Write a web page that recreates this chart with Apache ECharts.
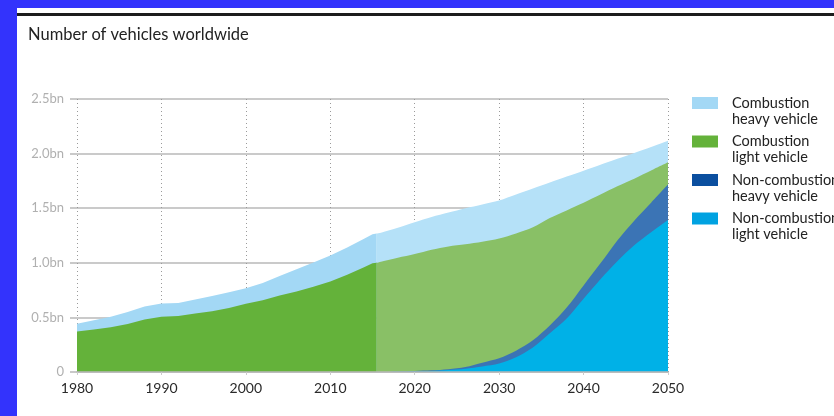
<!DOCTYPE html>
<html>
<head>
<meta charset="utf-8">
<script src="https://cdn.jsdelivr.net/npm/echarts@6/dist/echarts.min.js"></script>
<style>
html,body{margin:0;padding:0;background:#fff;}
#chart{width:834px;height:416px;}
</style>
</head>
<body>
<div id="chart"></div>
<script>
// Years (x values); 2015.5 marks the start of the projection
const years = [1980,1982,1984,1986,1988,1990,1992,1994,1996,1998,2000,2002,2004,2006,2008,2010,2012,2014,2015,2015.5,2016,2018,2020,2022,2024,2026,2028,2030,2032,2034,2036,2038,2040,2042,2044,2046,2048,2050];
// Values in billions of vehicles (per category; layers stacked bottom to top)
const nonCombustionLight = [0,0,0,0,0,0,0,0,0,0,0,0,0,0,0,0,0,0,0,0,0,0.002,0.005,0.01,0.018,0.03,0.05,0.077,0.135,0.225,0.355,0.49,0.671,0.85,1.015,1.16,1.28,1.393];
const nonCombustionHeavy = [0,0,0,0,0,0,0,0,0,0,0,0,0,0,0,0,0,0,0,0,0,0.001,0.005,0.005,0.007,0.015,0.035,0.048,0.06,0.065,0.07,0.10,0.122,0.145,0.19,0.226,0.27,0.323];
const combustionLight = [0.372,0.39,0.41,0.44,0.48,0.505,0.513,0.535,0.556,0.585,0.625,0.657,0.70,0.737,0.78,0.829,0.89,0.96,0.995,1.0,1.01,1.043,1.07,1.105,1.125,1.125,1.108,1.097,1.073,1.035,0.985,0.89,0.757,0.63,0.495,0.384,0.295,0.204];
const combustionHeavy = [0.070,0.085,0.095,0.11,0.12,0.122,0.12,0.13,0.139,0.145,0.143,0.158,0.18,0.203,0.223,0.238,0.25,0.26,0.267,0.268,0.265,0.274,0.291,0.30,0.31,0.33,0.342,0.348,0.357,0.355,0.325,0.31,0.294,0.272,0.252,0.235,0.215,0.198];
const projectionStart = 2015.5;
const seriesNames = ['Non-combustion light vehicle','Non-combustion heavy vehicle','Combustion light vehicle','Combustion heavy vehicle'];
const legendLabels = {
  'Combustion heavy vehicle': 'Combustion\nheavy vehicle',
  'Combustion light vehicle': 'Combustion\nlight vehicle',
  'Non-combustion heavy vehicle': 'Non-combustion\nheavy vehicle',
  'Non-combustion light vehicle': 'Non-combustion\nlight vehicle'
};
const yTickLabels = {0:'0',0.5:'0.5bn',1:'1.0bn',1.5:'1.5bn',2:'2.0bn',2.5:'2.5bn'};

// cumulative layer tops (stacking)
const top1 = nonCombustionLight.map(v => v);
const top2 = top1.map((v,i) => v + nonCombustionHeavy[i]);
const top3 = top2.map((v,i) => v + combustionLight[i]);
const top4 = top3.map((v,i) => v + combustionHeavy[i]);

const pairs = (arr, filt) => arr.map((v,i)=>[years[i], v]).filter(p => !filt || filt(p[0]));
const hist = x => x <= projectionStart;
const proj = x => x >= projectionStart;
const FONT = 'Lato, "Open Sans", sans-serif';

const colors = {
  ncl: '#00b1e7', ncl_leg: '#00a2e1',
  nch: '#3b74b5', nch_leg: '#0b4f9f',
  cl_hist: '#64b23a', cl_proj: '#89c066',
  ch_hist: '#a3d8f5', ch_proj: '#b5e1f8'
};

function areaSeries(name, data, color, smooth){
  return {
    name: name, type: 'line', data: data,
    symbol: 'none', smooth: smooth ? 0.3 : false,
    lineStyle: {width: 0},
    itemStyle: {color: color},
    areaStyle: {color: color, opacity: 1},
    emphasis: {disabled: true}
  };
}

const chart = echarts.init(document.getElementById('chart'));
chart.setOption({
  animation: false,
  backgroundColor: '#fff',
  title: {
    text: 'Number of vehicles worldwide', left: 23, top: 21,
    textStyle: {fontFamily: FONT, fontSize: 16.5, fontWeight: 'normal', color: '#222'}
  },
  graphic: [
    {type:'rect', shape:{x:0,y:0,width:17,height:416}, style:{fill:'#3333fc'}, z:100},
    {type:'rect', shape:{x:0,y:0,width:834,height:8}, style:{fill:'#3333fc'}, z:100},
    {type:'rect', shape:{x:17,y:13,width:817,height:3}, style:{fill:'#1c1c1c'}, z:100}
  ],
  legend: {
    orient: 'vertical', left: 687, top: 72,
    itemWidth: 26, itemHeight: 12, itemGap: -13.5,
    selectedMode: false,
    icon: 'rect',
    textStyle: {fontFamily: FONT, fontSize: 14.5, color: '#222', lineHeight: 16, padding: [4,0,0,9]},
    formatter: function(n){ return '\n' + legendLabels[n]; },
    data: [
      {name: seriesNames[3], itemStyle: {color: colors.ch_hist}},
      {name: seriesNames[2], itemStyle: {color: colors.cl_hist}},
      {name: seriesNames[1], itemStyle: {color: colors.nch_leg}},
      {name: seriesNames[0], itemStyle: {color: colors.ncl_leg}}
    ]
  },
  grid: {left: 77, right: 166, top: 99, bottom: 44, containLabel: false},
  xAxis: {
    type: 'value', min: 1980, max: 2050, interval: 10, z: 3,
    axisLine: {show: true, lineStyle: {color: '#b8b8b8', width: 1.5}},
    axisTick: {show: true, length: 3, lineStyle: {color: '#cccccc'}},
    axisLabel: {fontFamily: FONT, fontSize: 14, color: '#2a2a2a', margin: 9, formatter: v => String(v)},
    splitLine: {show: true, lineStyle: {color: '#9a9a9a', type: [1,3], width: 1}}
  },
  yAxis: {
    type: 'value', min: 0, max: 2.5, interval: 0.5, z: 3,
    axisLine: {show: false},
    axisTick: {show: true, length: 7, lineStyle: {color: '#b8b8b8', width: 1.5}},
    axisLabel: {fontFamily: FONT, fontSize: 13, color: '#b0b0b0', margin: 13, formatter: v => yTickLabels[v] !== undefined ? yTickLabels[v] : ''},
    splitLine: {show: true, lineStyle: {color: '#b8b8b8', width: 1.5}}
  },
  series: [
    areaSeries(seriesNames[3], pairs(top4, hist), colors.ch_hist, false),
    areaSeries(seriesNames[3], pairs(top4, proj), colors.ch_proj, true),
    areaSeries(seriesNames[2], pairs(top3, hist), colors.cl_hist, false),
    areaSeries(seriesNames[2], pairs(top3, proj), colors.cl_proj, true),
    areaSeries(seriesNames[1], pairs(top2, proj), colors.nch, true),
    areaSeries(seriesNames[0], pairs(top1, proj), colors.ncl, true)
  ]
});
</script>
</body>
</html>
